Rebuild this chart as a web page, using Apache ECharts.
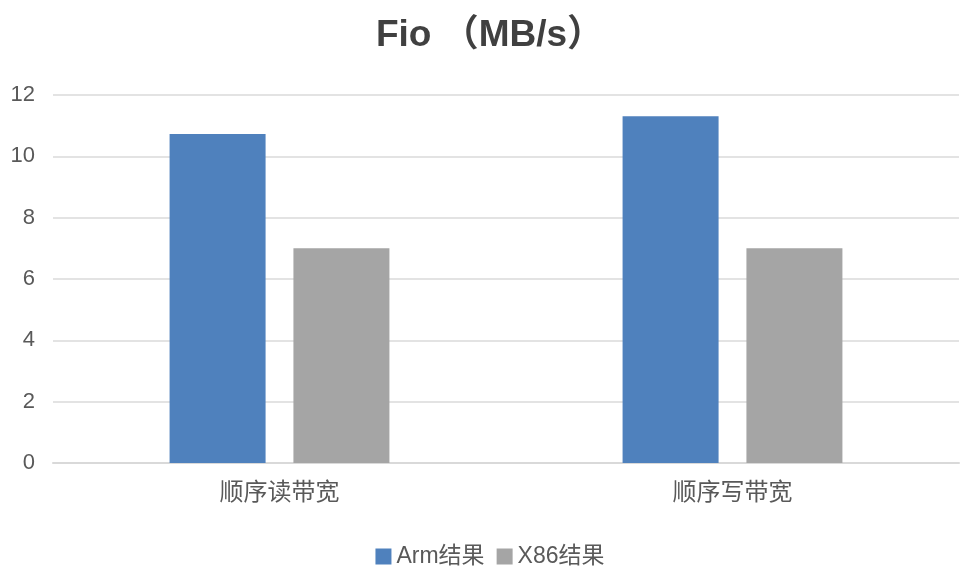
<!DOCTYPE html>
<html><head><meta charset="utf-8">
<script src="https://cdn.jsdelivr.net/npm/echarts@6/dist/echarts.min.js"></script>
<style>html,body{margin:0;padding:0;background:#fff}#c{width:980px;height:586px}</style>
</head><body><div id="c"></div>
<script>
const categories = ['顺序读带宽', '顺序写带宽'];
const armValues = [10.73, 11.31];
const x86Values = [7.0, 7.0];
const seriesNames = ['Arm结果', 'X86结果'];
const font = '"Liberation Sans", "Noto Sans CJK SC", sans-serif';
const chart = echarts.init(document.getElementById('c'));
chart.setOption({
  backgroundColor: '#fff',
  animation: false,
  title: {
    text: 'Fio （MB/s）', left: 'center', top: 12,
    textStyle: { fontFamily: font, fontSize: 37, fontWeight: 'bold', color: '#404040' }
  },
  legend: {
    bottom: 13, left: 'center', itemWidth: 16, itemHeight: 16, itemGap: 12,
    icon: 'rect',
    textStyle: { fontFamily: font, fontSize: 23, color: '#595959' },
    data: seriesNames
  },
  grid: { left: 53, right: 21, top: 95, bottom: 123, containLabel: false },
  xAxis: {
    type: 'category', data: categories,
    axisLine: { lineStyle: { color: '#d9d9d9', width: 2 } },
    axisTick: { show: false },
    axisLabel: { fontFamily: font, fontSize: 24, color: '#595959', margin: 18 }
  },
  yAxis: {
    type: 'value', min: 0, max: 12, interval: 2,
    axisLine: { show: false }, axisTick: { show: false },
    splitLine: { lineStyle: { color: '#e3e3e3', width: 2 } },
    axisLabel: { fontFamily: font, fontSize: 22, color: '#595959', margin: 18 }
  },
  series: [
    { name: seriesNames[0], type: 'bar', data: armValues, barWidth: 96, barGap: '29%', itemStyle: { color: '#4f81bd' } },
    { name: seriesNames[1], type: 'bar', data: x86Values, barWidth: 96, itemStyle: { color: '#a5a5a5' } }
  ]
});
</script></body></html>
